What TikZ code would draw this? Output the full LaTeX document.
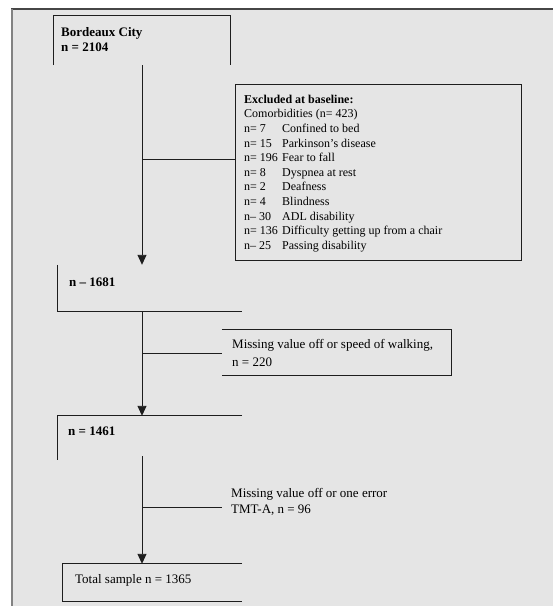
\documentclass[tikz,border=0pt]{standalone}
\usepackage{fontspec}
\setmainfont{Liberation Serif}
\usetikzlibrary{arrows.meta}
\definecolor{bgfill}{RGB}{229,229,229}
\definecolor{lineclr}{RGB}{30,30,30}
\definecolor{topclr}{RGB}{70,70,70}
\definecolor{leftclr}{RGB}{130,130,130}
\tikzset{
  frameline/.style={draw=lineclr, line width=0.9pt},
  arr/.style={draw=lineclr, line width=0.9pt, -{Triangle[length=10pt,width=9pt]}},
  txt/.style={anchor=base west, inner sep=0pt, font=\fontsize{13}{15.6}\selectfont},
  boxarea/.style={inner sep=0pt, draw=none},
}
\begin{document}
\begin{tikzpicture}[x=1pt,y=-1pt]
\useasboundingbox (0,0) rectangle (553,606);
% background panel
\fill[bgfill] (12,9) rectangle (554,607);
\draw[topclr, line width=1.6pt] (11.2,9) -- (554,9);
\draw[leftclr, line width=1.4pt] (12,9) -- (12,607);

% box areas
\node[boxarea, minimum width=176pt, minimum height=49pt] (b1) at (142,40.5) {};
\node[boxarea, minimum width=184pt, minimum height=46pt] (b2) at (150,288) {};
\node[boxarea, draw=lineclr, line width=1pt, minimum width=286pt, minimum height=176pt] (ex) at (378,172) {};
\node[boxarea, minimum width=229pt, minimum height=45pt] (m1) at (336.5,352.5) {};
\node[boxarea, minimum width=184pt, minimum height=44pt] (b3) at (150,438) {};
\node[boxarea, minimum width=179pt, minimum height=37pt] (b4) at (152.5,582.5) {};

% partial borders
\draw[frameline] (b1.south west) -- (b1.north west) -- (b1.north east) -- (b1.south east);
\draw[frameline] (b2.north west) -- (b2.south west) -- (b2.south east);
\draw[frameline] (m1.north west) -- (m1.north east) -- (m1.south east) -- (m1.south west);
\draw[frameline] (b3.north east) -- (b3.north west) -- (b3.south west);
\draw[frameline] (b4.north east) -- (b4.north west) -- (b4.south west) -- (b4.south east);

% connectors
\coordinate (j1) at (142,159);
\coordinate (j2) at (142,353);
\coordinate (s3) at (142,456);
\coordinate (j3) at (142,507);
\coordinate (e3) at (222,507);
\draw[arr] (b1.south) -- (b1.south |- b2.north);
\draw[frameline] (j1) -- (j1 -| ex.west);
\draw[arr] (b1.south |- b2.south) -- (b1.south |- b3.north);
\draw[frameline] (j2) -- (j2 -| m1.west);
\draw[arr] (s3) -- (b1.south |- b4.north);
\draw[frameline] (j3) -- (e3);

% texts
\node[txt] (t1a) at (61,36) {\bfseries Bordeaux City};
\node[txt] (t1b) at (61,51.5) {\bfseries n = 2104};
\node[anchor=north west, inner sep=0pt, font=\fontsize{12}{14.6}\selectfont] (extext) at (244,92.8) {%
\begin{tabular}{@{}p{38pt}@{}l@{}}
\multicolumn{2}{@{}l@{}}{\bfseries Excluded at baseline:}\\
\multicolumn{2}{@{}l@{}}{Comorbidities (n= 423)}\\
n= 7 & Confined to bed\\
n= 15 & Parkinson's disease\\
n= 196 & Fear to fall\\
n= 8 & Dyspnea at rest\\
n= 2 & Deafness\\
n= 4 & Blindness\\
n– 30 & ADL disability\\
n= 136 & Difficulty getting up from a chair\\
n– 25 & Passing disability
\end{tabular}};
\node[txt] (t2) at (69,286) {\bfseries n – 1681};
\node[txt] (t3a) at (232,348) {Missing value off or speed of walking,};
\node[txt] (t3b) at (232,366) {n = 220};
\node[txt] (t4) at (68,435) {\bfseries n = 1461};
\node[txt] (t5a) at (231,497) {Missing value off or one error};
\node[txt] (t5b) at (231,513) {TMT-A, n = 96};
\node[txt] (t6) at (75,583) {Total sample n = 1365};
\end{tikzpicture}
\end{document}
